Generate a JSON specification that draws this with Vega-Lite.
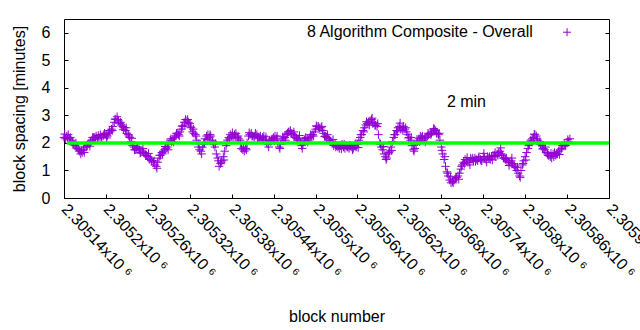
{
  "$schema": "https://vega.github.io/schema/vega-lite/v6.json",
  "width": 545,
  "height": 179,
  "autosize": {"type": "none"},
  "padding": {"left": 64, "top": 19, "right": 31, "bottom": 132},
  "background": "white",
  "config": {
    "font": "Liberation Sans",
    "view": {"stroke": "black", "strokeWidth": 1},
    "axis": {"labelFont": "Liberation Sans", "titleFont": "Liberation Sans", "labelFontSize": 16, "titleFontSize": 16, "titleFontWeight": "normal", "labelColor": "black", "titleColor": "black", "tickColor": "black", "domain": false, "grid": false}
  },
  "datasets": {
    "pts": [
{"b":2305140,"v":2.2},{"b":2305144,"v":2.25},{"b":2305148,"v":2.15},{"b":2305152,"v":2.05},{"b":2305156,"v":1.9},{"b":2305160,"v":1.8},{"b":2305164,"v":1.6},{"b":2305168,"v":1.75},{"b":2305172,"v":1.85},{"b":2305176,"v":2.0},{"b":2305180,"v":2.1},{"b":2305184,"v":2.2},{"b":2305188,"v":2.15},{"b":2305192,"v":2.3},{"b":2305196,"v":2.25},{"b":2305200,"v":2.3},{"b":2305204,"v":2.35},{"b":2305208,"v":2.5},{"b":2305212,"v":2.75},{"b":2305216,"v":2.95},{"b":2305220,"v":2.7},{"b":2305224,"v":2.6},{"b":2305228,"v":2.45},{"b":2305232,"v":2.3},{"b":2305236,"v":2.05},{"b":2305240,"v":1.85},{"b":2305244,"v":1.8},{"b":2305248,"v":1.75},{"b":2305252,"v":1.7},{"b":2305256,"v":1.6},{"b":2305260,"v":1.5},{"b":2305264,"v":1.45},{"b":2305268,"v":1.3},{"b":2305272,"v":1.15},{"b":2305276,"v":1.45},{"b":2305280,"v":1.65},{"b":2305284,"v":1.75},{"b":2305288,"v":1.85},{"b":2305292,"v":2.1},{"b":2305296,"v":2.15},{"b":2305300,"v":2.25},{"b":2305304,"v":2.3},{"b":2305308,"v":2.5},{"b":2305312,"v":2.75},{"b":2305316,"v":2.8},{"b":2305320,"v":2.7},{"b":2305324,"v":2.4},{"b":2305328,"v":2.3},{"b":2305332,"v":1.85},{"b":2305336,"v":1.7},{"b":2305340,"v":1.95},{"b":2305344,"v":2.25},{"b":2305348,"v":2.2},{"b":2305352,"v":2.1},{"b":2305356,"v":1.85},{"b":2305360,"v":1.45},{"b":2305364,"v":1.25},{"b":2305368,"v":1.5},{"b":2305372,"v":1.9},{"b":2305376,"v":2.2},{"b":2305380,"v":2.25},{"b":2305384,"v":2.3},{"b":2305388,"v":2.2},{"b":2305392,"v":2.1},{"b":2305396,"v":1.75},{"b":2305400,"v":1.8},{"b":2305404,"v":2.25},{"b":2305408,"v":2.35},{"b":2305412,"v":2.2},{"b":2305416,"v":2.3},{"b":2305420,"v":2.15},{"b":2305424,"v":2.2},{"b":2305428,"v":2.1},{"b":2305432,"v":1.95},{"b":2305436,"v":2.05},{"b":2305440,"v":2.2},{"b":2305444,"v":2.15},{"b":2305448,"v":1.85},{"b":2305452,"v":2.1},{"b":2305456,"v":2.2},{"b":2305460,"v":2.35},{"b":2305464,"v":2.45},{"b":2305468,"v":2.3},{"b":2305472,"v":2.2},{"b":2305476,"v":2.15},{"b":2305480,"v":1.9},{"b":2305484,"v":2.1},{"b":2305488,"v":2.15},{"b":2305492,"v":2.2},{"b":2305496,"v":2.3},{"b":2305500,"v":2.5},{"b":2305504,"v":2.6},{"b":2305508,"v":2.55},{"b":2305512,"v":2.35},{"b":2305516,"v":2.2},{"b":2305520,"v":2.1},{"b":2305524,"v":2.0},{"b":2305528,"v":1.95},{"b":2305532,"v":1.85},{"b":2305536,"v":1.9},{"b":2305540,"v":1.85},{"b":2305544,"v":1.9},{"b":2305548,"v":1.8},{"b":2305552,"v":1.85},{"b":2305556,"v":1.9},{"b":2305560,"v":1.95},{"b":2305564,"v":2.2},{"b":2305568,"v":2.45},{"b":2305572,"v":2.65},{"b":2305576,"v":2.75},{"b":2305580,"v":2.85},{"b":2305584,"v":2.75},{"b":2305588,"v":2.6},{"b":2305592,"v":2.0},{"b":2305596,"v":1.75},{"b":2305600,"v":1.5},{"b":2305604,"v":1.6},{"b":2305608,"v":1.85},{"b":2305612,"v":2.2},{"b":2305616,"v":2.45},{"b":2305620,"v":2.6},{"b":2305624,"v":2.55},{"b":2305628,"v":2.5},{"b":2305632,"v":2.3},{"b":2305636,"v":2.1},{"b":2305640,"v":1.75},{"b":2305644,"v":1.95},{"b":2305648,"v":2.15},{"b":2305652,"v":2.2},{"b":2305656,"v":2.15},{"b":2305660,"v":2.25},{"b":2305664,"v":2.35},{"b":2305668,"v":2.4},{"b":2305672,"v":2.45},{"b":2305676,"v":2.3},{"b":2305680,"v":1.85},{"b":2305684,"v":1.4},{"b":2305688,"v":0.95},{"b":2305692,"v":0.65},{"b":2305696,"v":0.6},{"b":2305700,"v":0.7},{"b":2305704,"v":0.8},{"b":2305708,"v":1.05},{"b":2305712,"v":1.3},{"b":2305716,"v":1.35},{"b":2305720,"v":1.3},{"b":2305724,"v":1.4},{"b":2305728,"v":1.45},{"b":2305732,"v":1.35},{"b":2305736,"v":1.4},{"b":2305740,"v":1.5},{"b":2305744,"v":1.4},{"b":2305748,"v":1.45},{"b":2305752,"v":1.5},{"b":2305756,"v":1.55},{"b":2305760,"v":1.6},{"b":2305764,"v":1.7},{"b":2305768,"v":1.55},{"b":2305772,"v":1.4},{"b":2305776,"v":1.3},{"b":2305780,"v":1.35},{"b":2305784,"v":1.2},{"b":2305788,"v":1.0},{"b":2305792,"v":0.8},{"b":2305796,"v":1.2},{"b":2305800,"v":1.5},{"b":2305804,"v":1.8},{"b":2305808,"v":2.1},{"b":2305812,"v":2.2},{"b":2305816,"v":2.25},{"b":2305820,"v":2.0},{"b":2305824,"v":1.9},{"b":2305828,"v":1.75},{"b":2305832,"v":1.6},{"b":2305836,"v":1.5},{"b":2305840,"v":1.6},{"b":2305844,"v":1.55},{"b":2305848,"v":1.7},{"b":2305852,"v":1.8},{"b":2305856,"v":1.95},{"b":2305860,"v":2.0},{"b":2305864,"v":2.15},
{"b":2305142,"v":2.15},{"b":2305146,"v":2.3},{"b":2305150,"v":2.1},{"b":2305154,"v":1.95},{"b":2305158,"v":1.85},{"b":2305162,"v":1.7},{"b":2305166,"v":1.65},{"b":2305170,"v":1.85},{"b":2305174,"v":1.95},{"b":2305178,"v":2.05},{"b":2305182,"v":2.2},{"b":2305186,"v":2.25},{"b":2305190,"v":2.2},{"b":2305194,"v":2.2},{"b":2305198,"v":2.35},{"b":2305202,"v":2.25},{"b":2305206,"v":2.4},{"b":2305210,"v":2.6},{"b":2305214,"v":2.85},{"b":2305218,"v":2.8},{"b":2305222,"v":2.65},{"b":2305226,"v":2.55},{"b":2305230,"v":2.35},{"b":2305234,"v":2.2},{"b":2305238,"v":1.9},{"b":2305242,"v":1.75},{"b":2305246,"v":1.85},{"b":2305250,"v":1.65},{"b":2305254,"v":1.65},{"b":2305258,"v":1.55},{"b":2305262,"v":1.4},{"b":2305266,"v":1.35},{"b":2305270,"v":1.2},{"b":2305274,"v":1.3},{"b":2305278,"v":1.55},{"b":2305282,"v":1.7},{"b":2305286,"v":1.8},{"b":2305290,"v":1.95},{"b":2305294,"v":2.05},{"b":2305298,"v":2.2},{"b":2305302,"v":2.35},{"b":2305306,"v":2.4},{"b":2305310,"v":2.6},{"b":2305314,"v":2.85},{"b":2305318,"v":2.75},{"b":2305322,"v":2.55},{"b":2305326,"v":2.35},{"b":2305330,"v":2.1},{"b":2305334,"v":1.75},{"b":2305338,"v":1.85},{"b":2305342,"v":2.15},{"b":2305346,"v":2.3},{"b":2305350,"v":2.25},{"b":2305354,"v":1.95},{"b":2305358,"v":1.6},{"b":2305362,"v":1.15},{"b":2305366,"v":1.35},{"b":2305370,"v":1.7},{"b":2305374,"v":2.1},{"b":2305378,"v":2.3},{"b":2305382,"v":2.2},{"b":2305386,"v":2.35},{"b":2305390,"v":2.15},{"b":2305394,"v":1.8},{"b":2305398,"v":1.7},{"b":2305402,"v":2.0},{"b":2305406,"v":2.3},{"b":2305410,"v":2.25},{"b":2305414,"v":2.35},{"b":2305418,"v":2.2},{"b":2305422,"v":2.1},{"b":2305426,"v":2.25},{"b":2305430,"v":2.0},{"b":2305434,"v":2.1},{"b":2305438,"v":2.15},{"b":2305442,"v":2.25},{"b":2305446,"v":2.0},{"b":2305450,"v":1.95},{"b":2305454,"v":2.15},{"b":2305458,"v":2.3},{"b":2305462,"v":2.4},{"b":2305466,"v":2.35},{"b":2305470,"v":2.25},{"b":2305474,"v":2.1},{"b":2305478,"v":2.05},{"b":2305482,"v":1.95},{"b":2305486,"v":2.2},{"b":2305490,"v":2.1},{"b":2305494,"v":2.25},{"b":2305498,"v":2.4},{"b":2305502,"v":2.6},{"b":2305506,"v":2.55},{"b":2305510,"v":2.45},{"b":2305514,"v":2.25},{"b":2305518,"v":2.15},{"b":2305522,"v":2.05},{"b":2305526,"v":1.9},{"b":2305530,"v":1.9},{"b":2305534,"v":1.8},{"b":2305538,"v":1.95},{"b":2305542,"v":1.8},{"b":2305546,"v":1.85},{"b":2305550,"v":1.9},{"b":2305554,"v":1.8},{"b":2305558,"v":1.85},{"b":2305562,"v":2.1},{"b":2305566,"v":2.3},{"b":2305570,"v":2.55},{"b":2305574,"v":2.7},{"b":2305578,"v":2.8},{"b":2305582,"v":2.7},{"b":2305586,"v":2.65},{"b":2305590,"v":2.3},{"b":2305594,"v":1.85},{"b":2305598,"v":1.6},{"b":2305602,"v":1.45},{"b":2305606,"v":1.7},{"b":2305610,"v":2.05},{"b":2305614,"v":2.3},{"b":2305618,"v":2.55},{"b":2305622,"v":2.5},{"b":2305626,"v":2.6},{"b":2305630,"v":2.4},{"b":2305634,"v":2.2},{"b":2305638,"v":1.9},{"b":2305642,"v":1.8},{"b":2305646,"v":2.05},{"b":2305650,"v":2.25},{"b":2305654,"v":2.1},{"b":2305658,"v":2.2},{"b":2305662,"v":2.3},{"b":2305666,"v":2.35},{"b":2305670,"v":2.5},{"b":2305674,"v":2.35},{"b":2305678,"v":2.1},{"b":2305682,"v":1.6},{"b":2305686,"v":1.15},{"b":2305690,"v":0.8},{"b":2305694,"v":0.55},{"b":2305698,"v":0.65},{"b":2305702,"v":0.75},{"b":2305706,"v":0.9},{"b":2305710,"v":1.2},{"b":2305714,"v":1.4},{"b":2305718,"v":1.3},{"b":2305722,"v":1.45},{"b":2305726,"v":1.35},{"b":2305730,"v":1.4},{"b":2305734,"v":1.5},{"b":2305738,"v":1.35},{"b":2305742,"v":1.45},{"b":2305746,"v":1.5},{"b":2305750,"v":1.4},{"b":2305754,"v":1.55},{"b":2305758,"v":1.5},{"b":2305762,"v":1.65},{"b":2305766,"v":1.6},{"b":2305770,"v":1.45},{"b":2305774,"v":1.35},{"b":2305778,"v":1.3},{"b":2305782,"v":1.25},{"b":2305786,"v":1.1},{"b":2305790,"v":0.9},{"b":2305794,"v":1.0},{"b":2305798,"v":1.35},{"b":2305802,"v":1.65},{"b":2305806,"v":1.95},{"b":2305810,"v":2.15},{"b":2305814,"v":2.3},{"b":2305818,"v":2.1},{"b":2305822,"v":1.95},{"b":2305826,"v":1.8},{"b":2305830,"v":1.65},{"b":2305834,"v":1.55},{"b":2305838,"v":1.45},{"b":2305842,"v":1.65},{"b":2305846,"v":1.6},{"b":2305850,"v":1.75},{"b":2305854,"v":1.9},{"b":2305858,"v":1.9},{"b":2305862,"v":2.05},
{"b":2305141,"v":2.32},{"b":2305145,"v":2.15},{"b":2305149,"v":2.2},{"b":2305153,"v":1.93},{"b":2305157,"v":2.0},{"b":2305161,"v":1.75},{"b":2305165,"v":1.72},{"b":2305169,"v":1.65},{"b":2305173,"v":1.9},{"b":2305177,"v":1.88},{"b":2305181,"v":2.2},{"b":2305185,"v":2.15},{"b":2305189,"v":2.27},{"b":2305193,"v":2.2},{"b":2305197,"v":2.3},{"b":2305201,"v":2.18},{"b":2305205,"v":2.45},{"b":2305209,"v":2.45},{"b":2305213,"v":2.87},{"b":2305217,"v":2.85},{"b":2305221,"v":2.75},{"b":2305225,"v":2.48},{"b":2305229,"v":2.55},{"b":2305233,"v":2.25},{"b":2305237,"v":2.17},{"b":2305241,"v":1.75},{"b":2305245,"v":1.85},{"b":2305249,"v":1.63},{"b":2305253,"v":1.8},{"b":2305257,"v":1.55},{"b":2305261,"v":1.62},{"b":2305265,"v":1.35},{"b":2305269,"v":1.35},{"b":2305273,"v":1.08},{"b":2305277,"v":1.55},{"b":2305281,"v":1.6},{"b":2305285,"v":1.87},{"b":2305289,"v":1.75},{"b":2305293,"v":2.15},{"b":2305297,"v":2.03},{"b":2305301,"v":2.35},{"b":2305305,"v":2.25},{"b":2305309,"v":2.62},{"b":2305313,"v":2.65},{"b":2305317,"v":2.85},{"b":2305321,"v":2.58},{"b":2305325,"v":2.5},{"b":2305329,"v":2.25},{"b":2305333,"v":1.97},{"b":2305337,"v":1.6},{"b":2305341,"v":2.0},{"b":2305345,"v":2.13},{"b":2305349,"v":2.3},{"b":2305353,"v":2.05},{"b":2305357,"v":1.97},{"b":2305361,"v":1.35},{"b":2305365,"v":1.3},{"b":2305369,"v":1.38},{"b":2305373,"v":2.0},{"b":2305377,"v":2.15},{"b":2305381,"v":2.37},{"b":2305385,"v":2.2},{"b":2305389,"v":2.25},{"b":2305393,"v":1.98},{"b":2305397,"v":1.85},{"b":2305401,"v":1.75},{"b":2305405,"v":2.37},{"b":2305409,"v":2.25},{"b":2305413,"v":2.25},{"b":2305417,"v":2.18},{"b":2305421,"v":2.25},{"b":2305425,"v":2.15},{"b":2305429,"v":2.22},{"b":2305433,"v":1.85},{"b":2305437,"v":2.1},{"b":2305441,"v":2.08},{"b":2305445,"v":2.25},{"b":2305449,"v":1.8},{"b":2305453,"v":2.22},{"b":2305457,"v":2.1},{"b":2305461,"v":2.4},{"b":2305465,"v":2.33},{"b":2305469,"v":2.4},{"b":2305473,"v":2.15},{"b":2305477,"v":2.27},{"b":2305481,"v":1.8},{"b":2305485,"v":2.15},{"b":2305489,"v":2.03},{"b":2305493,"v":2.3},{"b":2305497,"v":2.25},{"b":2305501,"v":2.62},{"b":2305505,"v":2.5},{"b":2305509,"v":2.6},{"b":2305513,"v":2.23},{"b":2305517,"v":2.3},{"b":2305521,"v":2.05},{"b":2305525,"v":2.12},{"b":2305529,"v":1.85},{"b":2305533,"v":1.9},{"b":2305537,"v":1.78},{"b":2305541,"v":1.95},{"b":2305545,"v":1.85},{"b":2305549,"v":1.92},{"b":2305553,"v":1.75},{"b":2305557,"v":1.95},{"b":2305561,"v":1.83},{"b":2305565,"v":2.3},{"b":2305569,"v":2.4},{"b":2305573,"v":2.77},{"b":2305577,"v":2.65},{"b":2305581,"v":2.9},{"b":2305585,"v":2.63},{"b":2305589,"v":2.7},{"b":2305593,"v":1.95},{"b":2305597,"v":1.87},{"b":2305601,"v":1.4},{"b":2305605,"v":1.65},{"b":2305609,"v":1.73},{"b":2305613,"v":2.3},{"b":2305617,"v":2.4},{"b":2305621,"v":2.72},{"b":2305625,"v":2.45},{"b":2305629,"v":2.55},{"b":2305633,"v":2.18},{"b":2305637,"v":2.2},{"b":2305641,"v":1.7},{"b":2305645,"v":2.07},{"b":2305649,"v":2.05},{"b":2305653,"v":2.25},{"b":2305657,"v":2.03},{"b":2305661,"v":2.35},{"b":2305665,"v":2.3},{"b":2305669,"v":2.52},{"b":2305673,"v":2.35},{"b":2305677,"v":2.35},{"b":2305681,"v":1.73},{"b":2305685,"v":1.5},{"b":2305689,"v":0.9},{"b":2305693,"v":0.77},{"b":2305697,"v":0.55},{"b":2305701,"v":0.75},{"b":2305705,"v":0.68},{"b":2305709,"v":1.15},{"b":2305713,"v":1.25},{"b":2305717,"v":1.47},{"b":2305721,"v":1.2},{"b":2305725,"v":1.45},{"b":2305729,"v":1.33},{"b":2305733,"v":1.45},{"b":2305737,"v":1.35},{"b":2305741,"v":1.62},{"b":2305745,"v":1.3},{"b":2305749,"v":1.5},{"b":2305753,"v":1.38},{"b":2305757,"v":1.65},{"b":2305761,"v":1.55},{"b":2305765,"v":1.82},{"b":2305769,"v":1.45},{"b":2305773,"v":1.45},{"b":2305777,"v":1.18},{"b":2305781,"v":1.45},{"b":2305785,"v":1.15},{"b":2305789,"v":1.12},{"b":2305793,"v":0.75},{"b":2305797,"v":1.25},{"b":2305801,"v":1.38},{"b":2305805,"v":1.9},{"b":2305809,"v":2.05},{"b":2305813,"v":2.32},{"b":2305817,"v":2.15},{"b":2305821,"v":2.05},{"b":2305825,"v":1.78},{"b":2305829,"v":1.85},{"b":2305833,"v":1.55},{"b":2305837,"v":1.62},{"b":2305841,"v":1.5},{"b":2305845,"v":1.6},{"b":2305849,"v":1.58},{"b":2305853,"v":1.9},{"b":2305857,"v":1.9},{"b":2305861,"v":2.12}
    ]
  },
  "resolve": {"axis": {"y": "independent"}},
  "layer": [
    {
      "data": {"name": "pts"},
      "mark": {"type": "point", "shape": "M-1,0H1M0,-1V1", "filled": false, "size": 72, "strokeWidth": 1, "stroke": "#9400d3", "opacity": 1},
      "encoding": {
        "x": {"field": "b", "type": "quantitative", "scale": {"domain": [2305140, 2305920], "nice": false, "zero": false},
              "axis": {"title": "block number", "values": [2305140,2305200,2305260,2305320,2305380,2305440,2305500,2305560,2305620,2305680,2305740,2305800,2305860,2305920],
                       "labelExpr": "format(datum.value/1000000, '.6~g') + 'x10 ⁶'", "labelAngle": 47, "labelAlign": "left", "labelBaseline": "middle",
                       "tickSize": -4, "labelPadding": 12, "labelOverlap": false, "labelBound": false, "titlePadding": 28}},
        "y": {"field": "v", "type": "quantitative", "scale": {"domain": [0, 6.5], "nice": false},
              "axis": {"title": "block spacing [minutes]", "values": [0,1,2,3,4,5,6], "tickSize": -4, "labelPadding": 18, "titlePadding": 14}}
      }
    },
    {
      "data": {"values": [{}]},
      "mark": {"type": "rule", "stroke": "#00ff00", "strokeWidth": 3.5},
      "encoding": {
        "x": {"datum": 2305144, "type": "quantitative"},
        "x2": {"datum": 2305920},
        "y": {"datum": 2, "type": "quantitative", "axis": {"orient": "right", "title": null, "labels": false, "values": [0,1,2,3,4,5,6], "tickSize": -4}}
      }
    },
    {
      "data": {"values": [{}]},
      "mark": {"type": "text", "align": "left", "baseline": "middle", "fontSize": 16, "font": "Liberation Sans", "fontWeight": "normal", "fill": "black"},
      "encoding": {
        "x": {"datum": 2305688, "type": "quantitative"},
        "y": {"datum": 3.5, "type": "quantitative", "axis": null},
        "text": {"value": "2 min"}
      }
    },
    {
      "data": {"values": [{}]},
      "mark": {"type": "text", "align": "right", "baseline": "middle", "fontSize": 16, "font": "Liberation Sans", "fontWeight": "normal", "fill": "black"},
      "encoding": {
        "x": {"datum": 2305811, "type": "quantitative"},
        "y": {"datum": 6.02, "type": "quantitative", "axis": null},
        "text": {"value": "8 Algorithm Composite - Overall"}
      }
    },
    {
      "data": {"values": [{}]},
      "mark": {"type": "point", "shape": "M-1,0H1M0,-1V1", "filled": false, "size": 64, "strokeWidth": 1, "stroke": "#9400d3", "opacity": 1},
      "encoding": {
        "x": {"datum": 2305860, "type": "quantitative"},
        "y": {"datum": 6.02, "type": "quantitative", "axis": null}
      }
    }
  ]
}
